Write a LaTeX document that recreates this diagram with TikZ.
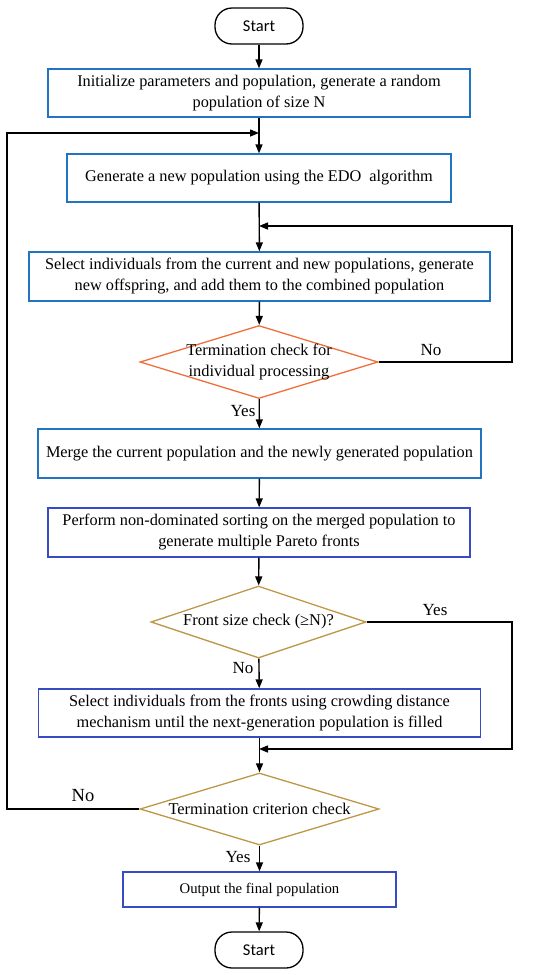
\documentclass[tikz,border=0pt]{standalone}
\usepackage{fontspec}
\setmainfont{Liberation Serif}
\newfontfamily\termfont{Carlito}
\usetikzlibrary{shapes.geometric,arrows.meta}
\definecolor{box-blue}{RGB}{35,115,195}
\definecolor{box-navy}{RGB}{55,75,195}
\definecolor{check-orange}{RGB}{240,110,60}
\definecolor{check-gold}{RGB}{190,150,70}
\tikzstyle{flowline}=[line width=1.4pt,black]
\tikzstyle{flowarrow}=[flowline,-{Triangle[length=9pt,width=7pt]}]
\tikzstyle{termbox}=[draw,line width=1.3pt,rounded corners=17pt,minimum width=88pt,minimum height=36pt,inner sep=0pt,font=\termfont\fontsize{16.5}{18}\selectfont]
\tikzstyle{procbox}=[draw,line width=1.3pt,inner sep=0pt,align=center,font=\fontsize{16.3}{21}\selectfont]
\tikzstyle{decision}=[draw,diamond,line width=1.3pt,inner sep=0pt]
\tikzstyle{decisiontext}=[align=center,font=\fontsize{16.4}{21}\selectfont]
\tikzstyle{answer}=[font=\fontsize{17}{18}\selectfont]

\begin{document}
\begin{tikzpicture}[x=1pt,y=-1pt]
	\useasboundingbox (0,0) rectangle (550,975);
	% terminals and process boxes
	\node[termbox] (start) at (259,26) {Start};
	\node[procbox,box-blue,text=black,minimum width=422pt,minimum height=48pt] (init) at (259,93) {Initialize parameters and population, generate a random\\population of size N};
	\node[procbox,box-blue,text=black,minimum width=384pt,minimum height=48pt] (edo) at (259,178) {Generate a new population using the EDO\ \ algorithm};
	\node[procbox,box-blue,text=black,minimum width=461pt,minimum height=49pt] (select) at (259.5,276.5) {Select individuals from the current and new populations, generate\\new offspring, and add them to the combined population};
	\node[decision,check-orange,minimum width=238pt,minimum height=73pt] (indcheck) at (259,362) {};
	\node[decisiontext] (indtext) at (indcheck.center) {Termination check for\\individual processing};
	\node[procbox,box-blue,text=black,minimum width=443pt,minimum height=49pt] (merge) at (259.5,453.5) {Merge the current population and the newly generated population};
	\node[procbox,box-navy,text=black,minimum width=422pt,minimum height=49pt] (sort) at (259,532.5) {Perform non-dominated sorting on the merged population to\\generate multiple Pareto fronts};
	\node[decision,check-gold,minimum width=215pt,minimum height=72pt] (frontcheck) at (258.5,622) {};
	\node[decisiontext] (fronttext) at (frontcheck.center) {Front size check (≥N)?};
	\node[procbox,box-navy,text=black,minimum width=442pt,minimum height=48pt] (crowd) at (259.5,713) {Select individuals from the fronts using crowding distance\\mechanism until the next-generation population is filled};
	\node[decision,check-gold,minimum width=239pt,minimum height=72pt] (endcheck) at (259.5,809) {};
	\node[decisiontext] (endtext) at (endcheck.center) {Termination criterion check};
	\node[procbox,box-navy,text=black,minimum width=273pt,minimum height=35pt,font=\fontsize{14.7}{16}\selectfont] (output) at (259.5,889.5) {Output the final population};
	\node[termbox] (stop) at (259,950) {Start};
	% joins on the main line
	\coordinate (join1) at (259,133);
	\coordinate (join2) at (259,226);
	\coordinate (join3) at (259,749);
	% answers
	\node[answer] (no1) at (431,350) {No};
	\node[answer] (yes1) at (243,411) {Yes};
	\node[answer] (yes2) at (435,610) {Yes};
	\node[answer] (no2) at (243,668) {No};
	\node[answer,font=\fontsize{18.5}{20}\selectfont] (no3) at (83,796) {No};
	\node[answer] (yes3) at (238,857) {Yes};
	% main line
	\draw[flowarrow] (start) -- (init);
	\draw[flowarrow] (init) -- (edo);
	\draw[flowarrow] (edo) -- (select);
	\draw[flowarrow] (select) -- (indcheck);
	\draw[flowarrow] (indcheck) -- (merge);
	\draw[flowarrow] (merge) -- (sort);
	\draw[flowarrow] (sort) -- (frontcheck);
	\draw[flowarrow] (frontcheck) -- (crowd);
	\draw[flowarrow] (crowd) -- (endcheck);
	\draw[flowarrow] (endcheck) -- (output);
	\draw[flowarrow] (output) -- (stop);
	% loops back
	\draw[flowarrow] (indcheck.east) -- (512,362) |- (join2);
	\draw[flowarrow] (frontcheck.east) -- (512,622) |- (join3);
	\draw[flowarrow] (endcheck.west) -- (7,809) |- (join1);
\end{tikzpicture}
\end{document}
